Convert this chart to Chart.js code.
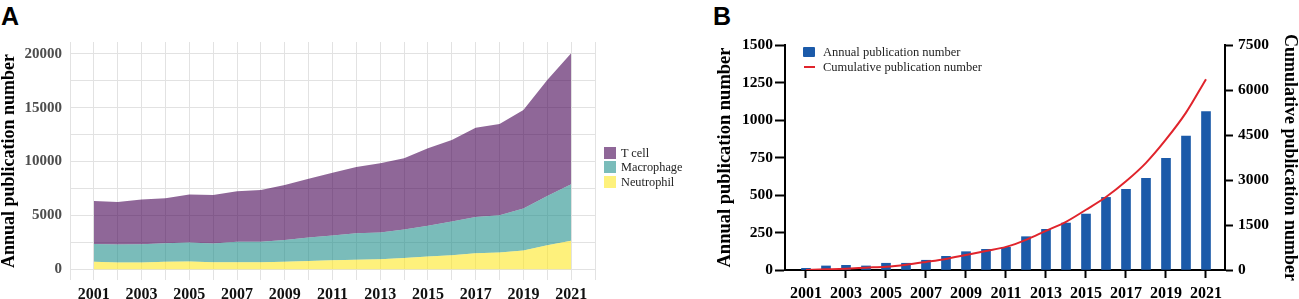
<!DOCTYPE html>
<html>
<head>
<meta charset="utf-8">
<script src="https://cdn.jsdelivr.net/npm/chart.js@4.4.1/dist/chart.umd.min.js"></script>
<style>
    body { margin: 0; background: #fff; width: 1299px; height: 299px; overflow: hidden; position: relative; font-family: 'Liberation Serif', serif; }
    .panel-label { position: absolute; font-family: 'Liberation Sans', Arial, sans-serif; font-weight: bold; font-size: 25px; line-height: 25px; }
    #wrapA { position: absolute; left: 0; top: 0; width: 700px; height: 299px; }
    #wrapB { position: absolute; left: 700px; top: 0; width: 599px; height: 299px; }
    .leg { position: absolute; font-family: 'Liberation Serif', serif; color: #222; white-space: nowrap; }
    .leg .row { position: relative; height: 14.8px; }
    .leg .box { position: absolute; left: 0; top: 0; width: 12px; height: 12px; }
    .leg .txt { position: absolute; left: 17px; top: -1px; font-size: 12.3px; line-height: 14px; }
</style>
</head>
<body>
<div class="panel-label" style="left:1px; top:4px;">A</div>
<div class="panel-label" style="left:713px; top:4px;">B</div>
<div id="wrapA"><canvas id="chartA" width="700" height="299"></canvas></div>
<div id="wrapB"><canvas id="chartB" width="599" height="299"></canvas></div>
<div class="leg" id="legA" style="left:604px; top:146.5px;"></div>
<div class="leg" id="legB" style="left:803px; top:45px;"></div>
<script>
// Datos panel A (áreas apiladas)
const years = [2001, 2002, 2003, 2004, 2005, 2006, 2007, 2008, 2009, 2010, 2011,
               2012, 2013, 2014, 2015, 2016, 2017, 2018, 2019, 2020, 2021];
const neutrophil = [680, 620, 620, 680, 710, 650, 650, 650, 680, 770, 830,
                    870, 930, 1050, 1180, 1300, 1490, 1550, 1740, 2230, 2630];
const macrophage = [1670, 1680, 1700, 1740, 1770, 1740, 1890, 1890, 2020, 2180, 2300,
                    2460, 2480, 2640, 2850, 3130, 3350, 3470, 3900, 4560, 5250];
const tcell = [3980, 3930, 4160, 4180, 4460, 4490, 4710, 4810, 5110, 5450, 5830,
               6170, 6420, 6610, 7200, 7570, 8310, 8470, 9150, 10790, 12180];
const seriesNamesA = ['T cell', 'Macrophage', 'Neutrophil'];
const xGridA = [2000, 2001, 2002, 2003, 2004, 2005, 2006, 2007, 2008, 2009, 2010, 2011,
                2012, 2013, 2014, 2015, 2016, 2017, 2018, 2019, 2020, 2021, 2022];
const xLabelsA = [2001, 2003, 2005, 2007, 2009, 2011, 2013, 2015, 2017, 2019, 2021];
const yGridA = [0, 2500, 5000, 7500, 10000, 12500, 15000, 17500, 20000];
const yLabelsA = [0, 5000, 10000, 15000, 20000];

// Datos panel B (barras + acumulado)
const annual = [11, 27, 31, 27, 45, 45, 65, 91, 122, 138, 151,
                222, 271, 313, 373, 484, 538, 611, 744, 893, 1056];
const cumulative = [0, 22, 45, 78, 110, 177, 268, 368, 502, 636, 770,
                    1004, 1306, 1607, 2009, 2433, 2957, 3572, 4352, 5246, 6361];
const xLabelsB = [2001, 2003, 2005, 2007, 2009, 2011, 2013, 2015, 2017, 2019, 2021];
const yLabelsB = [0, 250, 500, 750, 1000, 1250, 1500];
const y2LabelsB = [0, 1500, 3000, 4500, 6000, 7500];

const colTcell = 'rgba(68, 1, 84, 0.6)';
const colMacro = 'rgba(33, 144, 140, 0.6)';
const colNeutro = 'rgba(253, 231, 37, 0.6)';
const colBar = '#1b5aa9';
const colLine = '#e0242c';

const serif = 'Liberation Serif';
const toXY = (arr) => years.map((yr, i) => ({ x: yr, y: arr[i] }));

// Leyenda A en HTML
const legA = document.getElementById('legA');
[[seriesNamesA[0], colTcell], [seriesNamesA[1], colMacro], [seriesNamesA[2], colNeutro]].forEach(function (it) {
    const row = document.createElement('div');
    row.className = 'row';
    row.innerHTML = '<div class="box" style="background:' + it[1] + '"></div><div class="txt">' + it[0] + '</div>';
    legA.appendChild(row);
});

// Leyenda B en HTML
document.getElementById('legB').innerHTML =
    '<div style="position:absolute;left:0;top:2px;width:12px;height:10px;background:' + colBar + ';border-radius:1px"></div>' +
    '<div style="position:absolute;left:20px;top:0;font-size:12.5px;line-height:14px">Annual publication number</div>' +
    '<div style="position:absolute;left:1px;top:21px;width:11px;height:2px;background:' + colLine + '"></div>' +
    '<div style="position:absolute;left:20px;top:15px;font-size:12.5px;line-height:14px">Cumulative publication number</div>';

// Gráfico A
new Chart(document.getElementById('chartA').getContext('2d'), {
    type: 'line',
    data: {
        datasets: [
            { label: 'Neutrophil', data: toXY(neutrophil), backgroundColor: colNeutro, borderWidth: 0, pointRadius: 0, fill: 'origin', tension: 0 },
            { label: 'Macrophage', data: toXY(macrophage), backgroundColor: colMacro, borderWidth: 0, pointRadius: 0, fill: '-1', tension: 0 },
            { label: 'T cell', data: toXY(tcell), backgroundColor: colTcell, borderWidth: 0, pointRadius: 0, fill: '-1', tension: 0 }
        ]
    },
    options: {
        responsive: false,
        animation: false,
        layout: { padding: { top: 42, right: 105, left: 0, bottom: 0 } },
        plugins: { legend: { display: false }, tooltip: { enabled: false } },
        scales: {
            x: {
                type: 'linear',
                min: 2000,
                max: 2022,
                afterBuildTicks: function (scale) { scale.ticks = xGridA.map(v => ({ value: v })); },
                afterFit: function (scale) { scale.height = 19; },
                grid: { color: '#e2e2e2', lineWidth: 1, drawTicks: false },
                border: { display: false },
                ticks: {
                    autoSkip: false,
                    maxRotation: 0,
                    padding: 5,
                    color: '#111',
                    font: { family: serif, weight: 'bold', size: 16 },
                    callback: function (value) { return xLabelsA.includes(value) ? String(value) : ''; }
                }
            },
            y: {
                stacked: true,
                min: -1005,
                max: 21105,
                afterBuildTicks: function (scale) { scale.ticks = yGridA.map(v => ({ value: v })); },
                afterFit: function (scale) { scale.width = 70; },
                grid: { color: '#e2e2e2', lineWidth: 1, drawTicks: false },
                border: { display: false },
                title: {
                    display: true,
                    text: 'Annual publication number',
                    color: '#000',
                    padding: 0,
                    font: { family: serif, weight: 'bold', size: 18, lineHeight: 1 }
                },
                ticks: {
                    autoSkip: false,
                    padding: 8,
                    color: '#4d4d4d',
                    font: { family: serif, weight: 'bold', size: 15 },
                    callback: function (value) { return yLabelsA.includes(value) ? String(value) : ''; }
                }
            }
        }
    }
});

// Gráfico B
new Chart(document.getElementById('chartB').getContext('2d'), {
    type: 'bar',
    data: {
        datasets: [
            {
                type: 'line',
                label: 'Cumulative publication number',
                data: toXY(cumulative),
                yAxisID: 'y2',
                borderColor: colLine,
                borderWidth: 2,
                pointRadius: 0,
                fill: false,
                cubicInterpolationMode: 'monotone',
                order: 0
            },
            {
                type: 'bar',
                label: 'Annual publication number',
                data: toXY(annual),
                yAxisID: 'y',
                backgroundColor: colBar,
                barThickness: 9,
                order: 1
            }
        ]
    },
    options: {
        responsive: false,
        animation: false,
        layout: { padding: { top: 45, right: 0, left: 16, bottom: 0 } },
        plugins: { legend: { display: false }, tooltip: { enabled: false } },
        scales: {
            x: {
                type: 'linear',
                offset: false,
                min: 1999.95,
                max: 2021.95,
                afterBuildTicks: function (scale) { scale.ticks = xLabelsB.map(v => ({ value: v })); },
                afterFit: function (scale) { scale.height = 29; },
                grid: { offset: false, drawOnChartArea: false, drawTicks: true, tickLength: 8, tickColor: '#000', tickWidth: 2 },
                border: { display: true, color: '#000', width: 2 },
                ticks: {
                    autoSkip: false,
                    maxRotation: 0,
                    padding: 6,
                    color: '#000',
                    font: { family: serif, weight: 'bold', size: 16 },
                    callback: function (value) { return String(value); }
                }
            },
            y: {
                position: 'left',
                min: 0,
                max: 1500,
                afterBuildTicks: function (scale) { scale.ticks = yLabelsB.map(v => ({ value: v })); },
                afterFit: function (scale) { scale.width = 69; },
                grid: { drawOnChartArea: false, drawTicks: true, tickLength: 10, tickColor: '#000', tickWidth: 2 },
                border: { display: true, color: '#000', width: 2 },
                title: {
                    display: true,
                    text: 'Annual publication number',
                    color: '#000',
                    padding: 0,
                    font: { family: serif, weight: 'bold', size: 18.5, lineHeight: 1 }
                },
                ticks: {
                    autoSkip: false,
                    padding: 2,
                    color: '#000',
                    font: { family: serif, weight: 'bold', size: 15.5 },
                    callback: function (value) { return String(value); }
                }
            },
            y2: {
                position: 'right',
                min: 0,
                max: 7500,
                afterBuildTicks: function (scale) { scale.ticks = y2LabelsB.map(v => ({ value: v })); },
                afterFit: function (scale) { scale.width = 74; },
                grid: { drawOnChartArea: false, drawTicks: true, tickLength: 8, tickColor: '#000', tickWidth: 2 },
                border: { display: true, color: '#000', width: 2 },
                title: {
                    display: true,
                    text: 'Cumulative publication number',
                    color: '#000',
                    padding: 0,
                    font: { family: serif, weight: 'bold', size: 18, lineHeight: 1 }
                },
                ticks: {
                    autoSkip: false,
                    padding: 5,
                    color: '#000',
                    font: { family: serif, weight: 'bold', size: 15.5 },
                    callback: function (value) { return String(value); }
                }
            }
        }
    }
});
</script>
</body>
</html>
